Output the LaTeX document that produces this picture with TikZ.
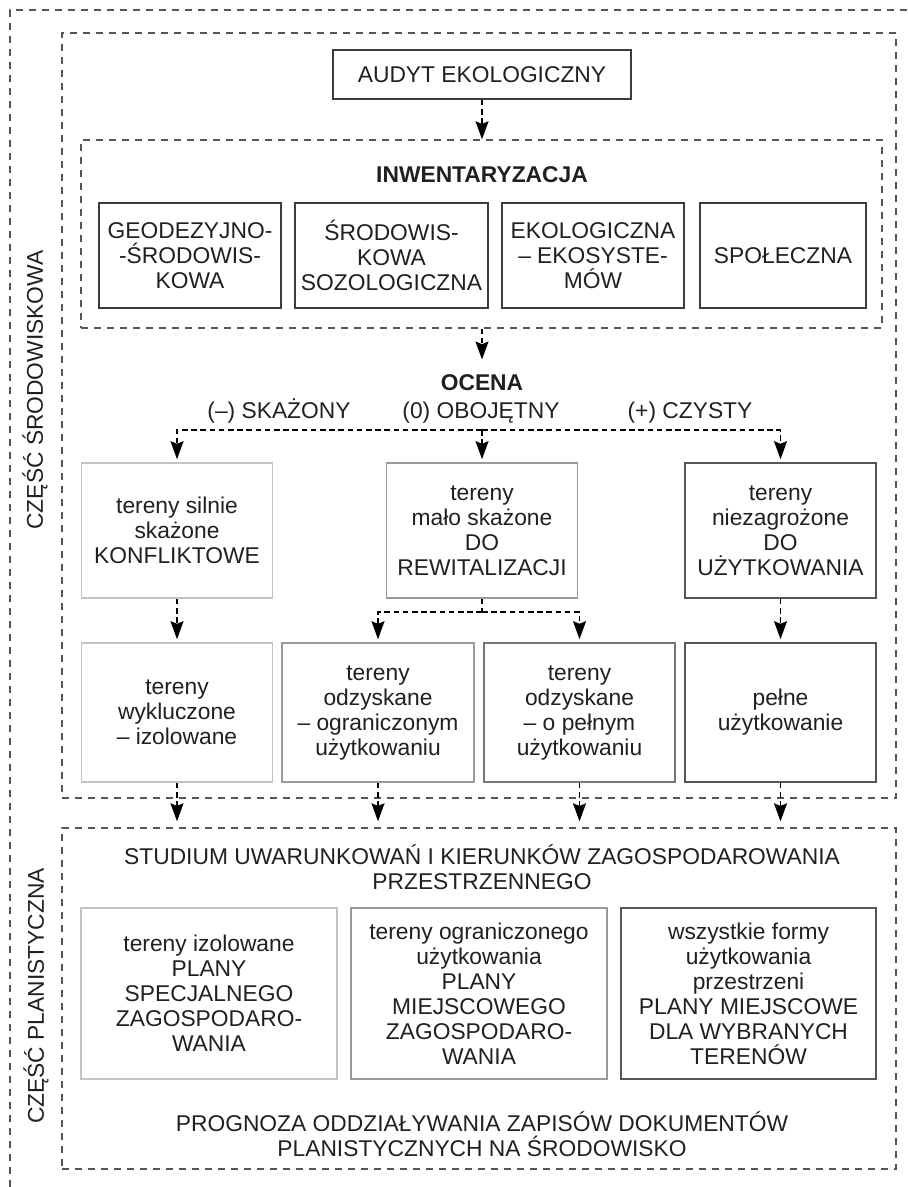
\documentclass[tikz,border=0pt]{standalone}
\usepackage{fontspec}
\setmainfont{Liberation Sans}
\usetikzlibrary{arrows.meta}
\definecolor{txt}{HTML}{231F20}
\definecolor{framec}{HTML}{555555}
\definecolor{bdark}{HTML}{3C3C3C}
\definecolor{bdark2}{HTML}{555555}
\definecolor{bmid2}{HTML}{777777}
\definecolor{bmid}{HTML}{9A9A9A}
\definecolor{blight}{HTML}{C4C4C4}
\begin{document}
\begin{tikzpicture}[x=0.5pt,y=-0.5pt,
  font=\fontsize{11.4}{12.5}\selectfont, text=txt,
  wh/.style 2 args={minimum width={#1*0.5pt}, minimum height={#2*0.5pt}},
  box/.style={draw=#1, line width=0.8pt, align=center, inner sep=0pt, fill=white},
  frame/.style={draw=framec, line width=0.7pt, dash pattern=on 3.5pt off 3pt, inner sep=0pt},
  link/.style={draw=black, line width=0.65pt, dash pattern=on 2.8pt off 1.8pt},
  conn/.style={link, -{Stealth[length=9pt,width=6.5pt,inset=1.3pt]}},
  boldtxt/.style={font=\fontsize{11.4}{12.5}\selectfont\bfseries}]
\useasboundingbox (0,0) rectangle (908,1187);
% outer frame (open)
\draw[frame] (10,1187) -- (10,10) -- (908,10);
% section frames
\node[frame, wh={834}{765}] (f1) at (479,415.5) {};
\node[frame, wh={834}{341}] (f2) at (479,998.5) {};
% side labels
\node[rotate=90] (lab1) at (35,390) {CZĘŚĆ ŚRODOWISKOWA};
\node[rotate=90] (lab2) at (36,996) {CZĘŚĆ PLANISTYCZNA};
% audit
\node[box=bdark, wh={298}{49}] (audyt) at (482,74.5) {AUDYT EKOLOGICZNY};
% inventory
\node[frame, wh={801}{188}] (inv) at (481.5,234) {};
\node[boldtxt] (invt) at (482,175) {INWENTARYZACJA};
\node[box=bdark, wh={182}{105}] (i1) at (190,255.5) {GEODEZYJNO-\\-ŚRODOWIS-\\KOWA};
\node[box=bdark, wh={193}{105}] (i2) at (391.5,255.5) {ŚRODOWIS-\\KOWA\\SOZOLOGICZNA};
\node[box=bdark, wh={182}{105}] (i3) at (593,255.5) {EKOLOGICZNA\\– EKOSYSTE-\\MÓW};
\node[box=bdark, wh={166}{105}] (i4) at (783,255.5) {SPOŁECZNA};
% assessment
\node[boldtxt, inner ysep=7.5pt] (ocena) at (482,383) {OCENA};
\node[text height=8pt, text depth=2pt] (l1) at (279,412) {(–) SKAŻONY};
\node[text height=8pt, text depth=2pt] (l2) at (481,412) {(0) OBOJĘTNY};
\node[text height=8pt, text depth=2pt] (l3) at (690,412) {(+) CZYSTY};
% row 2
\node[box=blight, wh={191}{135}] (A) at (177,530.5) {tereny silnie\\skażone\\KONFLIKTOWE};
\node[box=bmid, wh={191}{135}] (B) at (482,530.5) {tereny\\mało skażone\\DO\\REWITALIZACJI};
\node[box=bdark2, wh={191}{135}] (C) at (780.5,530.5) {tereny\\niezagrożone\\DO\\UŻYTKOWANIA};
% row 3
\node[box=blight, wh={191}{139}] (D) at (177,712.5) {tereny\\wykluczone\\– izolowane};
\node[box=bmid, wh={192}{139}] (E) at (378,712.5) {tereny\\odzyskane\\– ograniczonym\\użytkowaniu};
\node[box=bmid2, wh={191}{139}] (F) at (579.5,712.5) {tereny\\odzyskane\\– o pełnym\\użytkowaniu};
\node[box=bdark2, wh={191}{139}] (G) at (780.5,712.5) {pełne\\użytkowanie};
% planning part
\node[align=center] (stud) at (482,867.5) {STUDIUM UWARUNKOWAŃ I KIERUNKÓW ZAGOSPODAROWANIA\\PRZESTRZENNEGO};
\node[box=blight, wh={256}{171}] (H) at (209,993.5) {tereny izolowane\\PLANY\\SPECJALNEGO\\ZAGOSPODARO-\\WANIA};
\node[box=bmid, wh={256}{171}] (I) at (479,993.5) {tereny ograniczonego\\użytkowania\\PLANY\\MIEJSCOWEGO\\ZAGOSPODARO-\\WANIA};
\node[box=bdark2, wh={255}{171}] (J) at (748.5,993.5) {wszystkie formy\\użytkowania\\przestrzeni\\PLANY MIEJSCOWE\\DLA WYBRANYCH\\TERENÓW};
\node[align=center] (prog) at (482,1134) {PROGNOZA ODDZIAŁYWANIA ZAPISÓW DOKUMENTÓW\\PLANISTYCZNYCH NA ŚRODOWISKO};
% connectors
\draw[conn] (audyt.south) -- (audyt.south |- inv.north);
\draw[conn] (ocena.north |- inv.south) -- (ocena.north);
\coordinate (s1) at (482,430);
\draw[conn, shorten >=1.5pt] (s1) -| (A.north);
\draw[conn, shorten >=1.5pt] (s1) -- (B.north);
\draw[conn, shorten >=1.5pt] (s1) -| (C.north);
\draw[conn, shorten >=1.5pt] (A.south) -- (D.north);
\coordinate (s2) at (482,612);
\draw[link] (B.south) -- (s2);
\draw[conn, shorten >=1.5pt] (s2) -| (E.north);
\draw[conn, shorten >=1.5pt] (s2) -| (F.north);
\draw[conn, shorten >=1.5pt] (C.south) -- (G.north);
\foreach \n in {D,E,F,G}
  \draw[conn, shorten >=3pt] (\n.south) -- (\n.south |- f2.north);
\end{tikzpicture}
\end{document}
